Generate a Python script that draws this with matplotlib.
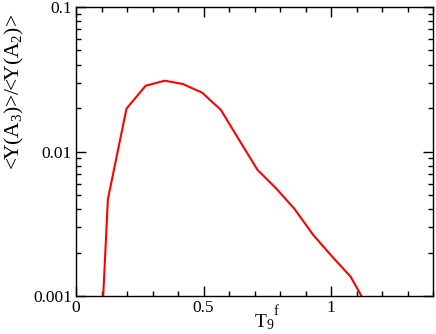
import matplotlib
matplotlib.use("Agg")
import matplotlib.pyplot as plt
from matplotlib.ticker import FixedLocator, NullFormatter, LogLocator

plt.rcParams['font.family'] = ['Liberation Serif', 'DejaVu Serif']
plt.rcParams['mathtext.fontset'] = 'custom'
plt.rcParams['mathtext.rm'] = 'Liberation Serif'
plt.rcParams['mathtext.it'] = 'Liberation Serif:italic'

T9f = [0.052, 0.125, 0.198, 0.273, 0.348, 0.419, 0.495, 0.568, 0.640,
       0.712, 0.785, 0.857, 0.930, 0.999, 1.077, 1.150]
ratio = [1e-5, 0.00467, 0.0198, 0.0285, 0.0309, 0.0293, 0.0255, 0.0194, 0.0120,
         0.00745, 0.00555, 0.0040, 0.00265, 0.00192, 0.00136, 0.0008]

xticks = [0, 0.5, 1]
xticklabels = ['0', '0.5', '1']
yticks = [0.001, 0.01, 0.1]
yticklabels = ['0.001', '0.01', '0.1']

fig = plt.figure(figsize=(4.36, 3.34), dpi=100)
ax = fig.add_axes([76/436, 1-296/334, (433-76)/436, (296-7)/334])
ax.plot(T9f, ratio, color='red', lw=1.5)
ax.set_yscale('log')
ax.set_xlim(0, 1.4)
ax.set_ylim(0.001, 0.1)
ax.set_xticks(xticks)
ax.set_xticklabels(xticklabels)
ax.xaxis.set_minor_locator(FixedLocator([i/10 for i in range(15) if i % 5]))
ax.set_yticks(yticks)
ax.set_yticklabels(yticklabels)
ax.yaxis.set_minor_locator(LogLocator(base=10, subs=range(2, 10)))
ax.yaxis.set_minor_formatter(NullFormatter())
ax.tick_params(which='both', direction='in', top=True, right=True, labelsize=12.5, width=1.0)
ax.tick_params(which='major', length=7, pad=3)
ax.tick_params(which='minor', length=3.5)
for s in ax.spines.values():
    s.set_linewidth(1.0)
fig.text(254/436, 1-327/334, r'T$_9$', fontsize=14, ha='left', va='baseline')
fig.text(274/436, 1-315/334, 'f', fontsize=10.5, ha='left', va='baseline')
fig.text(14/436, 1-92/334, r'<Y(A$_3$)>/<Y(A$_2$)>', fontsize=15.5, rotation=90,
         ha='center', va='center')
fig.savefig('out.png', dpi=100)
